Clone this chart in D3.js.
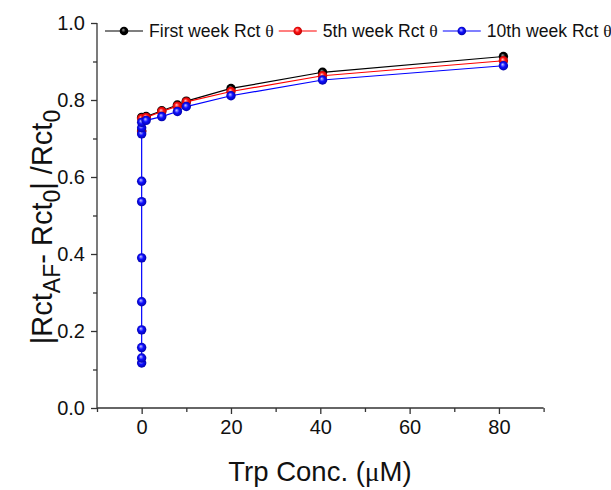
<!DOCTYPE html>
<html><head><meta charset="utf-8">
<script src="https://cdn.jsdelivr.net/npm/d3@7"></script>
<style>body{margin:0;background:#fff}svg{display:block}</style>
</head><body><svg id="c" width="611" height="490"></svg>
<script>
// ---- data ----
const seriesNames = ["First week Rct ", "5th week Rct ", "10th week Rct "];
const seriesColors = ["#000000", "#ff0000", "#0000ff"];
const xFirst = [0, 0, 1, 4.5, 8, 10, 20, 40.5, 81];
const yFirst = [0.720, 0.755, 0.757, 0.772, 0.787, 0.797, 0.830, 0.872, 0.913];
const xFifth = [0, 0, 1, 4.5, 8, 10, 20, 40.5, 81];
const yFifth = [0.718, 0.752, 0.755, 0.770, 0.784, 0.795, 0.822, 0.863, 0.902];
const xTenth = [0, 0, 0, 0, 0, 0, 0, 0, 0, 0, 0, 1, 4.5, 8, 10, 20, 40.5, 81];
const yTenth = [0.117, 0.130, 0.157, 0.203, 0.276, 0.390, 0.536, 0.589, 0.712, 0.728, 0.742, 0.747, 0.757, 0.770, 0.783, 0.811, 0.852, 0.889];
const xTicks = [0, 20, 40, 60, 80];
const xMinor = [-10, 10, 30, 50, 70, 90];
const yTicks = [0, 0.2, 0.4, 0.6, 0.8, 1.0];
const yMinor = [0.1, 0.3, 0.5, 0.7, 0.9];

const svg = d3.select("#c");
const x = d3.scaleLinear().domain([-10, 90]).range([97, 543.6]);
const y = d3.scaleLinear().domain([0, 1]).range([408, 23]);
const axisColor = "#333";

// gradients for ball markers
const defs = svg.append("defs");
const grads = [["#9a9a9a", "#000000", "#000000"], ["#ffc0c0", "#ff1010", "#b00000"], ["#c8c8ff", "#1010ff", "#0000a0"]];
grads.forEach((g, i) => {
  const rg = defs.append("radialGradient").attr("id", "g" + i).attr("cx", "50%").attr("cy", "50%").attr("r", "55%").attr("fx", "40%").attr("fy", "35%");
  rg.append("stop").attr("offset", "0%").attr("stop-color", g[0]);
  rg.append("stop").attr("offset", "45%").attr("stop-color", g[1]);
  rg.append("stop").attr("offset", "100%").attr("stop-color", g[2]);
});

// axes
const xAxis = d3.axisBottom(x).tickValues(xTicks).tickSize(6).tickPadding(6).tickFormat(d3.format("d"));
const gx = svg.append("g").attr("transform", "translate(0,408)").call(xAxis);
gx.selectAll("text").attr("font-size", 20).attr("font-family", "Liberation Sans, Arial, sans-serif").attr("fill", "#111");
const xMinorAxis = d3.axisBottom(x).tickValues(xMinor).tickSize(4).tickFormat("");
const gxm = svg.append("g").attr("transform", "translate(0,408)").call(xMinorAxis);
gxm.select(".domain").remove();

const yAxis = d3.axisLeft(y).tickValues(yTicks).tickSize(6).tickPadding(6).tickFormat(d3.format(".1f"));
const gy = svg.append("g").attr("transform", "translate(97,0)").call(yAxis);
gy.selectAll("text").attr("font-size", 20).attr("font-family", "Liberation Sans, Arial, sans-serif").attr("fill", "#111");
const yMinorAxis = d3.axisLeft(y).tickValues(yMinor).tickSize(4).tickFormat("");
const gym = svg.append("g").attr("transform", "translate(97,0)").call(yMinorAxis);
gym.select(".domain").remove();
gx.select(".domain").attr("d", `M${x(-10)},0H${x(90)}`);
gy.select(".domain").attr("d", `M0,${y(0)}V${y(1)}`);
svg.selectAll(".domain, .tick line").attr("stroke", axisColor).attr("stroke-width", 1.3);

// series
const series = [[xFirst, yFirst], [xFifth, yFifth], [xTenth, yTenth]];
const line = d3.line().x(d => x(d[0])).y(d => y(d[1]));
series.forEach((s, i) => {
  const pts = s[0].map((v, j) => [v, s[1][j]]);
  const g = svg.append("g");
  g.append("path").attr("d", line(pts)).attr("fill", "none").attr("stroke", seriesColors[i]).attr("stroke-width", 1.2);
  g.selectAll("circle").data(pts).join("circle")
    .attr("cx", d => x(d[0])).attr("cy", d => y(d[1])).attr("r", 4.7)
    .attr("fill", `url(#g${i})`);
});

// legend
let lx = 105;
const ly = 31;
seriesNames.forEach((name, i) => {
  svg.append("line").attr("x1", lx).attr("x2", lx + 38).attr("y1", ly).attr("y2", ly).attr("stroke", seriesColors[i]).attr("stroke-width", 1.2);
  svg.append("circle").attr("cx", lx + 19).attr("cy", ly).attr("r", 4.3).attr("fill", `url(#g${i})`);
  const t = svg.append("text").attr("x", lx + 44).attr("y", ly + 6).attr("font-size", 17.6).attr("font-family", "Liberation Sans, Arial, sans-serif").attr("fill", "#111");
  t.append("tspan").text(name);
  t.append("tspan").attr("font-family", "Liberation Serif, Times New Roman, serif").text("\u03b8");
  const w = t.node().getComputedTextLength();
  lx = lx + 44 + w + 5;
});

// axis titles
const xt = svg.append("text").attr("x", 320).attr("y", 481).attr("text-anchor", "middle").attr("font-size", 27.5)
  .attr("font-family", "Liberation Sans, Arial, sans-serif").attr("fill", "#111");
xt.append("tspan").text("Trp Conc. (");
xt.append("tspan").attr("font-family", "Liberation Serif, Times New Roman, serif").text("\u03bc");
xt.append("tspan").text("M)");

const yt = svg.append("text").attr("transform", "translate(52,227) rotate(-90)").attr("text-anchor", "middle")
  .attr("font-size", 29).attr("font-family", "Liberation Sans, Arial, sans-serif").attr("fill", "#111");
yt.append("tspan").text("|Rct");
yt.append("tspan").attr("font-size", 23).attr("dy", 8).text("AF");
yt.append("tspan").attr("dy", -8).text("- Rct");
yt.append("tspan").attr("font-size", 23).attr("dy", 8).text("0");
yt.append("tspan").attr("dy", -8).text("| /Rct");
yt.append("tspan").attr("font-size", 23).attr("dy", 8).text("0");
</script></body></html>
